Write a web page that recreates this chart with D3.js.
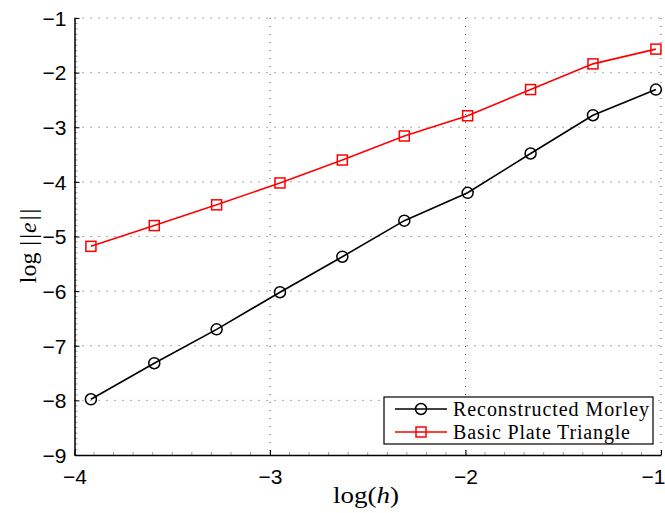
<!DOCTYPE html>
<html>
<head>
<meta charset="utf-8">
<script src="https://cdn.jsdelivr.net/npm/d3@7"></script>
<style>
  body { margin: 0; background: #fff; }
  svg { font-family: "Liberation Serif", "DejaVu Serif", serif; }
</style>
</head>
<body>
<div id="Chart"></div>
<script>
// log(h) values of the mesh sizes
var logH = [-3.916, -3.592, -3.273, -2.949, -2.630, -2.313, -1.989, -1.667, -1.348, -1.026];
// log ||e|| values
var morley = [-7.98, -7.32, -6.70, -6.02, -5.37, -4.71, -4.20, -3.48, -2.78, -2.31];
var plate = [-5.18, -4.80, -4.42, -4.02, -3.60, -3.16, -2.79, -2.31, -1.84, -1.57];
var xTicks = [-4, -3, -2, -1];
var yTicks = [-9, -8, -7, -6, -5, -4, -3, -2, -1];
var seriesNames = ["Reconstructed Morley", "Basic Plate Triangle"];

var margin = {top: 18, right: 4, bottom: 58, left: 74.5},
    width = 661 - margin.left,
    height = 455 - margin.top;

var svg = d3.select("#Chart")
    .append("svg")
    .attr("width", 665)
    .attr("height", 513);
var g = svg.append("g")
    .attr("transform", "translate(" + margin.left + "," + margin.top + ")");

var x = d3.scaleLinear().domain([-4, -1]).range([0, width]);
var y = d3.scaleLinear().domain([-9, -1]).range([height, 0]);

// dotted grid
g.selectAll(".vgrid")
    .data(xTicks.slice(1))
    .enter().append("line")
    .attr("x1", d => x(d)).attr("x2", d => x(d))
    .attr("y1", 0).attr("y2", height)
    .attr("stroke", "#555").attr("stroke-width", 1)
    .attr("stroke-dasharray", "1,7");
g.selectAll(".hgrid")
    .data(yTicks.slice(1))
    .enter().append("line")
    .attr("x1", 0).attr("x2", width)
    .attr("y1", d => y(d)).attr("y2", d => y(d))
    .attr("stroke", "#555").attr("stroke-width", 1)
    .attr("stroke-dasharray", "1,7");

// minor ticks
var minorY = d3.range(-9, -0.99, 0.1);
g.selectAll(".minY")
    .data(minorY)
    .enter().append("line")
    .attr("x1", 0).attr("x2", 3)
    .attr("y1", d => y(d)).attr("y2", d => y(d))
    .attr("stroke", "#888").attr("stroke-width", 0.8);
var minorX = d3.range(-4, -0.99, 0.1);
g.selectAll(".minX")
    .data(minorX)
    .enter().append("line")
    .attr("x1", d => x(d)).attr("x2", d => x(d))
    .attr("y1", height).attr("y2", height - 3)
    .attr("stroke", "#888").attr("stroke-width", 0.8);

// axes
var xAxis = d3.axisBottom(x).tickValues(xTicks).tickSizeInner(-5).tickSizeOuter(0)
    .tickPadding(14).tickFormat(d => "\u2212" + Math.abs(d));
var yAxis = d3.axisLeft(y).tickValues(yTicks).tickSizeInner(-5).tickSizeOuter(0)
    .tickPadding(8).tickFormat(d => "\u2212" + Math.abs(d));

g.append("g")
    .attr("class", "x axis")
    .attr("transform", "translate(0," + height + ")")
    .call(xAxis)
    .call(a => a.select(".domain").attr("stroke", "#000").attr("stroke-width", 1.5))
    .selectAll("text")
    .style("font-size", "21px")
    .attr("fill", "#000")
    .attr("text-anchor", d => d == -1 ? "end" : "middle")
    .attr("x", d => d == -1 ? 4 : 0);

g.append("g")
    .attr("class", "y axis")
    .call(yAxis)
    .call(a => a.select(".domain").attr("stroke", "#000").attr("stroke-width", 1.5))
    .selectAll("text")
    .style("font-size", "21px")
    .attr("dy", "0.35em")
    .attr("fill", "#000");

// axis labels
var xl = svg.append("text")
    .attr("x", 366)
    .attr("y", 503)
    .attr("text-anchor", "middle")
    .style("font-size", "24px")
    .attr("textLength", 66)
    .attr("lengthAdjust", "spacingAndGlyphs");
xl.append("tspan").text("log(");
xl.append("tspan").style("font-style", "italic").text("h");
xl.append("tspan").text(")");

var yl = svg.append("text")
    .attr("transform", "translate(36," + 246 + ") rotate(-90)")
    .attr("text-anchor", "middle")
    .style("font-size", "24px");
yl.append("tspan").text("log");
yl.append("tspan").attr("dx", 7).text("|");
yl.append("tspan").attr("dx", 2).text("|");
yl.append("tspan").attr("dx", 1).style("font-style", "italic").text("e");
yl.append("tspan").attr("dx", 2).text("|");
yl.append("tspan").attr("dx", 2).text("|");

// lines
var line = d3.line().x((d, i) => x(logH[i])).y(d => y(d));
g.append("path").datum(morley)
    .attr("d", line).attr("fill", "none")
    .attr("stroke", "#000").attr("stroke-width", 1.6);
g.append("path").datum(plate)
    .attr("d", line).attr("fill", "none")
    .attr("stroke", "#ff0000").attr("stroke-width", 1.6);

// markers
g.selectAll(".circ")
    .data(morley)
    .enter().append("circle")
    .attr("cx", (d, i) => x(logH[i]))
    .attr("cy", d => y(d))
    .attr("r", 5.5)
    .attr("fill", "none")
    .attr("stroke", "#000").attr("stroke-width", 1.5);
g.selectAll(".sq")
    .data(plate)
    .enter().append("rect")
    .attr("x", (d, i) => x(logH[i]) - 5)
    .attr("y", d => y(d) - 5)
    .attr("width", 10).attr("height", 10)
    .attr("fill", "none")
    .attr("stroke", "#ff0000").attr("stroke-width", 1.5);

// legend
var lg = svg.append("g").attr("transform", "translate(384,397)");
lg.append("rect")
    .attr("width", 269).attr("height", 47)
    .attr("fill", "#fff").attr("stroke", "#000").attr("stroke-width", 1.2);
var rows = [12, 35];
var textLens = [196, 177];
rows.forEach(function(ry, i) {
    var col = i == 0 ? "#000" : "#ff0000";
    lg.append("line")
        .attr("x1", 11).attr("x2", 63)
        .attr("y1", ry).attr("y2", ry)
        .attr("stroke", col).attr("stroke-width", 1.6);
    if (i == 0) {
        lg.append("circle").attr("cx", 37).attr("cy", ry).attr("r", 5.5)
            .attr("fill", "none").attr("stroke", col).attr("stroke-width", 1.5);
    } else {
        lg.append("rect").attr("x", 32).attr("y", ry - 5).attr("width", 10).attr("height", 10)
            .attr("fill", "none").attr("stroke", col).attr("stroke-width", 1.5);
    }
    lg.append("text")
        .attr("x", 69).attr("y", ry)
        .attr("dy", "0.35em")
        .style("font-size", "20px")
        .attr("textLength", textLens[i])
        .attr("lengthAdjust", "spacing")
        .text(seriesNames[i]);
});
</script>
</body>
</html>
